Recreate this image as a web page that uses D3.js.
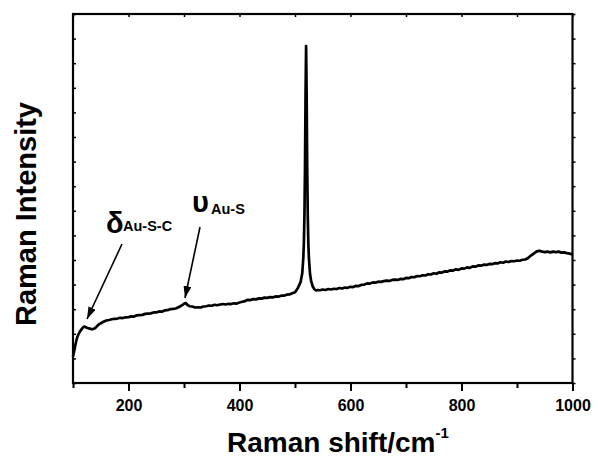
<!DOCTYPE html>
<html><head><meta charset="utf-8">
<script src="https://cdn.jsdelivr.net/npm/d3@7"></script>
<style>body{margin:0;background:#fff}svg{display:block}text{font-family:"Liberation Sans",Arial,sans-serif;fill:#000}</style>
</head><body><svg id="c" width="598" height="457"></svg>
<script>
// Raman spectrum data (shift in cm^-1, intensity in arbitrary units)
const shift = [100,102,104,106,108,110,112,114,116,118,120,122,124,126,128,130,133,136,139,142,145,148,151,154,157,160,165,170,175,180,185,190,195,200,205,210,215,220,225,230,235,240,245,250,255,260,265,270,275,280,285,290,295,300,303,306,310,315,320,325,330,335,340,345,350,355,360,365,370,375,380,385,390,395,400,405,410,415,420,425,430,435,440,445,450,455,460,465,470,475,480,485,490,495,500,505,510,513,515,516,517,518,519,520,521,522,523,524,525,527,529,532,535,538,541,545,550,555,560,565,570,575,580,585,590,595,600,605,610,615,620,625,630,635,640,645,650,655,660,665,670,675,680,685,690,695,700,705,710,715,720,725,730,735,740,745,750,755,760,765,770,775,780,785,790,795,800,805,810,815,820,825,830,835,840,845,850,855,860,865,870,875,880,885,890,895,900,905,910,915,920,925,930,935,940,945,950,955,960,965,970,975,980,985,990,995,1000];
const intensity = [108,128,152,172,188,199,207,214,220,226,229,228,226,224,222,221,219,219,222,228,235,240,244,248,251,254,256,259,261,262,265,264,267,268,271,270,275,276,277,281,282,283,287,287,291,290,295,296,300,301,303,308,314,322,325,318,312,311,307,308,307,311,312,315,314,318,316,319,321,319,322,321,324,323,327,330,333,338,337,341,340,344,343,347,346,349,348,352,351,355,355,359,360,365,369,385,410,445,510,570,680,870,1170,1370,1170,870,680,570,510,445,415,392,381,376,378,377,380,378,382,380,383,382,386,384,388,387,391,390,395,394,399,400,405,404,409,408,412,411,414,416,415,419,420,419,423,422,427,426,431,430,435,434,438,437,442,441,446,444,450,449,454,453,458,457,462,460,466,465,470,468,474,473,478,477,481,480,484,483,487,486,491,489,494,492,496,495,498,497,501,502,508,518,526,534,538,534,532,534,531,534,532,534,530,531,528,526,522];
const xTicksMajor = [200,400,600,800,1000];
const xTicksMinor = [100,300,500,700,900];
const xDomain = [100,1000];
const yDomain = [0,1500];
const yTickStep = 100;
const annotations = [
  {greek:"δ", sub:"Au-S-C", gx:106, gy:233, sx:123, sy:231, ax1:122, ay1:244, ax2:87, ay2:319},
  {greek:"υ", sub:"Au-S", gx:192, gy:212, sx:211, sy:214, ax1:200, ay1:227, ax2:185, ay2:298}
];

const svg = d3.select("#c");
const L=73, R=572.5, T=14, B=383;
const x = d3.scaleLinear().domain(xDomain).range([L,R]);
const y = d3.scaleLinear().domain(yDomain).range([B,T]);
const yTicks = d3.range(yDomain[0], yDomain[1]+1, yTickStep);

// curve
const line = d3.line().x((d,i)=>x(shift[i])).y(d=>y(d));
svg.append("path").datum(intensity).attr("d",line)
  .attr("fill","none").attr("stroke","#000").attr("stroke-width",2.7).attr("stroke-linejoin","round");

// bottom axis
const bottom = svg.append("g").attr("transform",`translate(0,${B})`)
  .call(d3.axisBottom(x).tickValues(xTicksMajor).tickSize(8).tickSizeOuter(0).tickPadding(9).tickFormat(d3.format("d")));
bottom.select(".domain").remove();
bottom.selectAll("line").attr("stroke-width",2);
bottom.selectAll("text").attr("font-size",16).attr("font-family","'Liberation Sans',Arial,sans-serif").attr("font-weight","bold").attr("fill","#000");
svg.append("g").attr("transform",`translate(0,${B})`)
  .call(d3.axisBottom(x).tickValues(xTicksMinor).tickSize(5).tickSizeOuter(0).tickFormat(""))
  .call(g=>{g.select(".domain").remove(); g.selectAll("line").attr("stroke-width",2);});
// top axis ticks (inward)
svg.append("g").attr("transform",`translate(0,${T})`)
  .call(d3.axisBottom(x).tickValues(xTicksMajor.concat(xTicksMinor)).tickSize(3).tickSizeOuter(0).tickFormat(""))
  .call(g=>{g.select(".domain").remove(); g.selectAll("line").attr("stroke-width",1.5);});
// left ticks (inward)
svg.append("g").attr("transform",`translate(${L},0)`)
  .call(d3.axisRight(y).tickValues(yTicks).tickSize(3).tickSizeOuter(0).tickFormat(""))
  .call(g=>{g.select(".domain").remove(); g.selectAll("line").attr("stroke-width",1.5);});
// right ticks
svg.append("g").attr("transform",`translate(${R},0)`)
  .call(d3.axisRight(y).tickValues(yTicks).tickSize(3).tickSizeOuter(0).tickFormat(""))
  .call(g=>{g.select(".domain").remove(); g.selectAll("line").attr("stroke-width",1.5);});
// frame
svg.append("rect").attr("x",L).attr("y",T).attr("width",R-L).attr("height",B-T)
  .attr("fill","none").attr("stroke","#000").attr("stroke-width",2.2);

// axis titles
const xt = svg.append("text").attr("x",227).attr("y",452).attr("font-size",28).style("font-weight","bold");
xt.append("tspan").text("Raman shift/cm");
xt.append("tspan").attr("font-size",15).attr("dy",-14).text("-1");
svg.append("text").attr("transform","translate(36,214) rotate(-90)").attr("text-anchor","middle")
  .attr("font-size",29).style("font-weight","bold").text("Raman Intensity");

// annotations
svg.append("defs").append("marker").attr("id","ah").attr("viewBox","0 0 12 8").attr("refX",12).attr("refY",4)
  .attr("markerWidth",12).attr("markerHeight",8).attr("markerUnits","userSpaceOnUse").attr("orient","auto")
  .append("path").attr("d","M0,0 L12,4 L0,8 Z").attr("fill","#000");
annotations.forEach(a=>{
  svg.append("text").attr("x",a.gx).attr("y",a.gy).attr("font-size",29).style("font-weight","bold").text(a.greek);
  svg.append("text").attr("x",a.sx).attr("y",a.sy).attr("font-size",14.5).style("font-weight","bold").text(a.sub);
  svg.append("line").attr("x1",a.ax1).attr("y1",a.ay1).attr("x2",a.ax2).attr("y2",a.ay2)
    .attr("stroke","#000").attr("stroke-width",1.6).attr("marker-end","url(#ah)");
});
</script></body></html>
